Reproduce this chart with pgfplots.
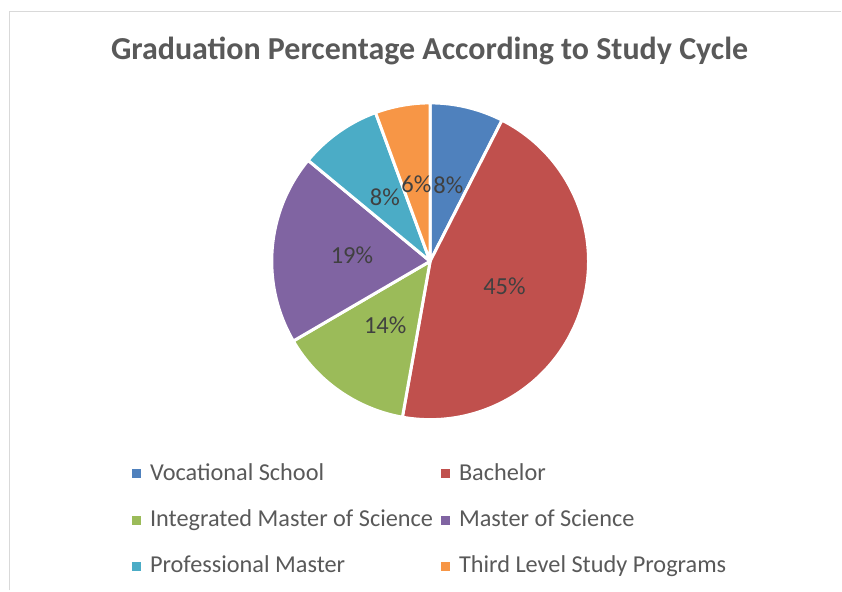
\documentclass[border=0pt]{standalone}
\usepackage{pgfplots}
\pgfplotsset{compat=1.18}
\usepackage{pgfplotstable}
\usepackage{fontspec}
\setmainfont{Carlito}

\definecolor{cVoc}{HTML}{4F81BD}
\definecolor{cBac}{HTML}{C0504D}
\definecolor{cInt}{HTML}{9BBB59}
\definecolor{cMsc}{HTML}{8064A2}
\definecolor{cPro}{HTML}{4BACC6}
\definecolor{cThi}{HTML}{F79646}
\definecolor{titlegray}{HTML}{595959}
\definecolor{labelgray}{HTML}{404040}
\definecolor{framegray}{HTML}{D9D9D9}

% share of graduates per study cycle (%), clockwise from 12 o'clock
\pgfplotstableread[col sep=comma]{
name,value,color
Vocational School,7.5,cVoc
Bachelor,45.3,cBac
Integrated Master of Science,13.8,cInt
Master of Science,19.4,cMsc
Professional Master,8.4,cPro
Third Level Study Programs,5.6,cThi
}\piedata

\begin{document}
\begin{tikzpicture}
\begin{axis}[
  hide axis,
  scale only axis,
  width=842pt, height=591pt,
  xmin=0, xmax=842, ymin=0, ymax=591,
  clip=false,
  legend columns=2,
  legend image code/.code={\fill[#1, draw=none] (0pt,2pt) rectangle (9pt,11pt);},
  legend style={
    draw=none, fill=none,
    at={(axis description cs:0.1532,0.219)}, anchor=north west,
    font=\fontsize{24.3}{29}\selectfont, text=titlegray,
    nodes={inner sep=0pt, anchor=base west},
    /tikz/every odd column/.append style={column sep=9pt},
    /tikz/every even column/.append style={column sep=8pt},
    row sep=28pt,
  },
]
  \path (axis cs:0,0) rectangle (axis cs:842,591);
  % chart frame
  \draw[framegray, line width=1.5pt] (axis cs:9.5,0) |- (axis cs:842,579.5);

  \node[font=\fontsize{32}{38}\selectfont\bfseries, text=titlegray]
    at (axis cs:430,540) {Graduation Percentage According to Study Cycle};

  \def\cum{0}
  \pgfplotsforeachungrouped \i in {0,...,5}{%
    \pgfplotstablegetelem{\i}{value}\of\piedata \let\val\pgfplotsretval
    \pgfplotstablegetelem{\i}{color}\of\piedata \let\col\pgfplotsretval
    \pgfplotstablegetelem{\i}{name}\of\piedata \let\nam\pgfplotsretval
    \pgfmathsetmacro\aS{90-3.6*\cum}
    \pgfmathsetmacro\aE{90-3.6*(\cum+\val)}
    \pgfmathsetmacro\cum{\cum+\val}
    \edef\tmp{%
      \noexpand\fill[\col, draw=white, line width=3pt, line join=round]
        (axis cs:430.5,329.5) -- ++(\aS:158.5pt)
        arc[start angle=\aS, end angle=\aE, radius=158.5pt] -- cycle;
      \noexpand\addlegendimage{fill=\col}
      \noexpand\addlegendentry{\nam}
    }\tmp
  }

  % data labels
  \def\cum{0}
  \pgfplotsforeachungrouped \i in {0,...,5}{%
    \pgfplotstablegetelem{\i}{value}\of\piedata \let\val\pgfplotsretval
    \pgfmathsetmacro\aM{90-3.6*(\cum+\val/2)}
    \pgfmathsetmacro\cum{\cum+\val}
    \pgfmathsetmacro\lx{430.5+78.5*cos(\aM)}
    \pgfmathsetmacro\ly{329.5+78.5*sin(\aM)}
    \pgfmathtruncatemacro\pct{round(\val)}
    \edef\tmp{%
      \noexpand\node[font=\noexpand\fontsize{24.5}{29}\noexpand\selectfont, text=labelgray]
        at (axis cs:\lx,\ly) {\pct\noexpand\%};
    }\tmp
  }
\end{axis}
\end{tikzpicture}
\end{document}
